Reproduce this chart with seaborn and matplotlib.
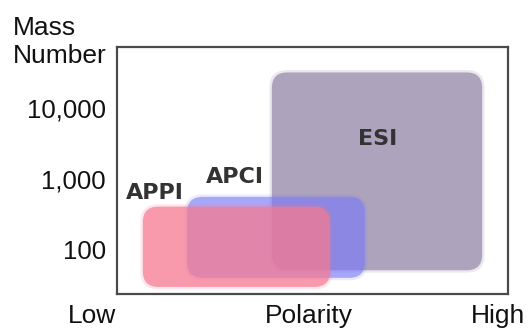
import numpy as np
import matplotlib
matplotlib.use("Agg")
import matplotlib.pyplot as plt
from matplotlib.patches import FancyBboxPatch
import seaborn as sns

# Ionisation techniques: polarity range (0 = low, 10 = high) and mass range
methods = ["APPI", "APCI", "ESI"]
polarity_low = [0.66, 1.79, 3.96]
polarity_high = [5.45, 6.34, 9.34]
mass_low = [29, 39, 50]
mass_high = [400, 550, 32000]
label_polarity = [0.97, 3.02, 6.67]
label_mass = [620, 1050, 3630]

mass_ticks = [100, 1000, 10000]
mass_tick_labels = ["100", "1,000", "10,000"]

colors = {"ESI": ("#ada3bc", 1.0), "APCI": ("#7a7af7", 0.6), "APPI": ("#f67a92", 0.7)}
draw_order = ["ESI", "APCI", "APPI"]

sns.set_style("white")
plt.rcParams['font.family'] = ['Liberation Sans', 'DejaVu Sans']

fig = plt.figure(figsize=(5.30, 3.31), dpi=100)
ax = fig.add_axes([0.2208, 0.1118, 0.7377, 0.746])

ax.set_xlim(0, 10)
ax.set_ylim(1.362, 4.865)

# aspect of y units vs x units per pixel, keeps corners round
aspect = (3.503 / 246) / (10 / 391)

for m in draw_order:
    i = methods.index(m)
    x0, x1 = polarity_low[i], polarity_high[i]
    y0, y1 = np.log10(mass_low[i]), np.log10(mass_high[i])
    col, a = colors[m]
    # faint halo to soften the edges
    halo = FancyBboxPatch((x0, y0), x1 - x0, y1 - y0,
                          boxstyle="round,pad=0.06,rounding_size=0.45",
                          mutation_aspect=aspect,
                          facecolor=col, edgecolor="none",
                          alpha=a * 0.25, zorder=2)
    ax.add_patch(halo)
    box = FancyBboxPatch((x0, y0), x1 - x0, y1 - y0,
                         boxstyle="round,pad=0,rounding_size=0.4",
                         mutation_aspect=aspect,
                         facecolor=col, edgecolor="none",
                         alpha=a, zorder=2)
    ax.add_patch(box)

for i, m in enumerate(methods):
    ax.text(label_polarity[i], np.log10(label_mass[i]), m,
            ha="center", va="center", fontsize=16, fontweight="bold",
            color="#333333", family=["DejaVu Sans"], zorder=5)

ax.set_yticks(np.log10(mass_ticks))
ax.set_yticklabels(mass_tick_labels)
ax.set_xticks([])
ax.tick_params(axis="y", length=0, pad=8, labelsize=18.5, labelcolor="#111111")

for s in ax.spines.values():
    s.set_visible(True)
    s.set_color("#4a4a4a")
    s.set_linewidth(1.6)

fig.text(13 / 530, 1 - 35 / 331, "Mass", fontsize=19, ha="left", va="baseline", color="#111111")
fig.text(13 / 530, 1 - 63 / 331, "Number", fontsize=19, ha="left", va="baseline", color="#111111")

fig.text(92 / 530, 1 - 316 / 331, "Low", fontsize=19, ha="center", va="center", color="#111111")
fig.text(309 / 530, 1 - 316 / 331, "Polarity", fontsize=19, ha="center", va="center", color="#111111")
fig.text(498 / 530, 1 - 316 / 331, "High", fontsize=19, ha="center", va="center", color="#111111")

fig.savefig("out.png", dpi=100)
